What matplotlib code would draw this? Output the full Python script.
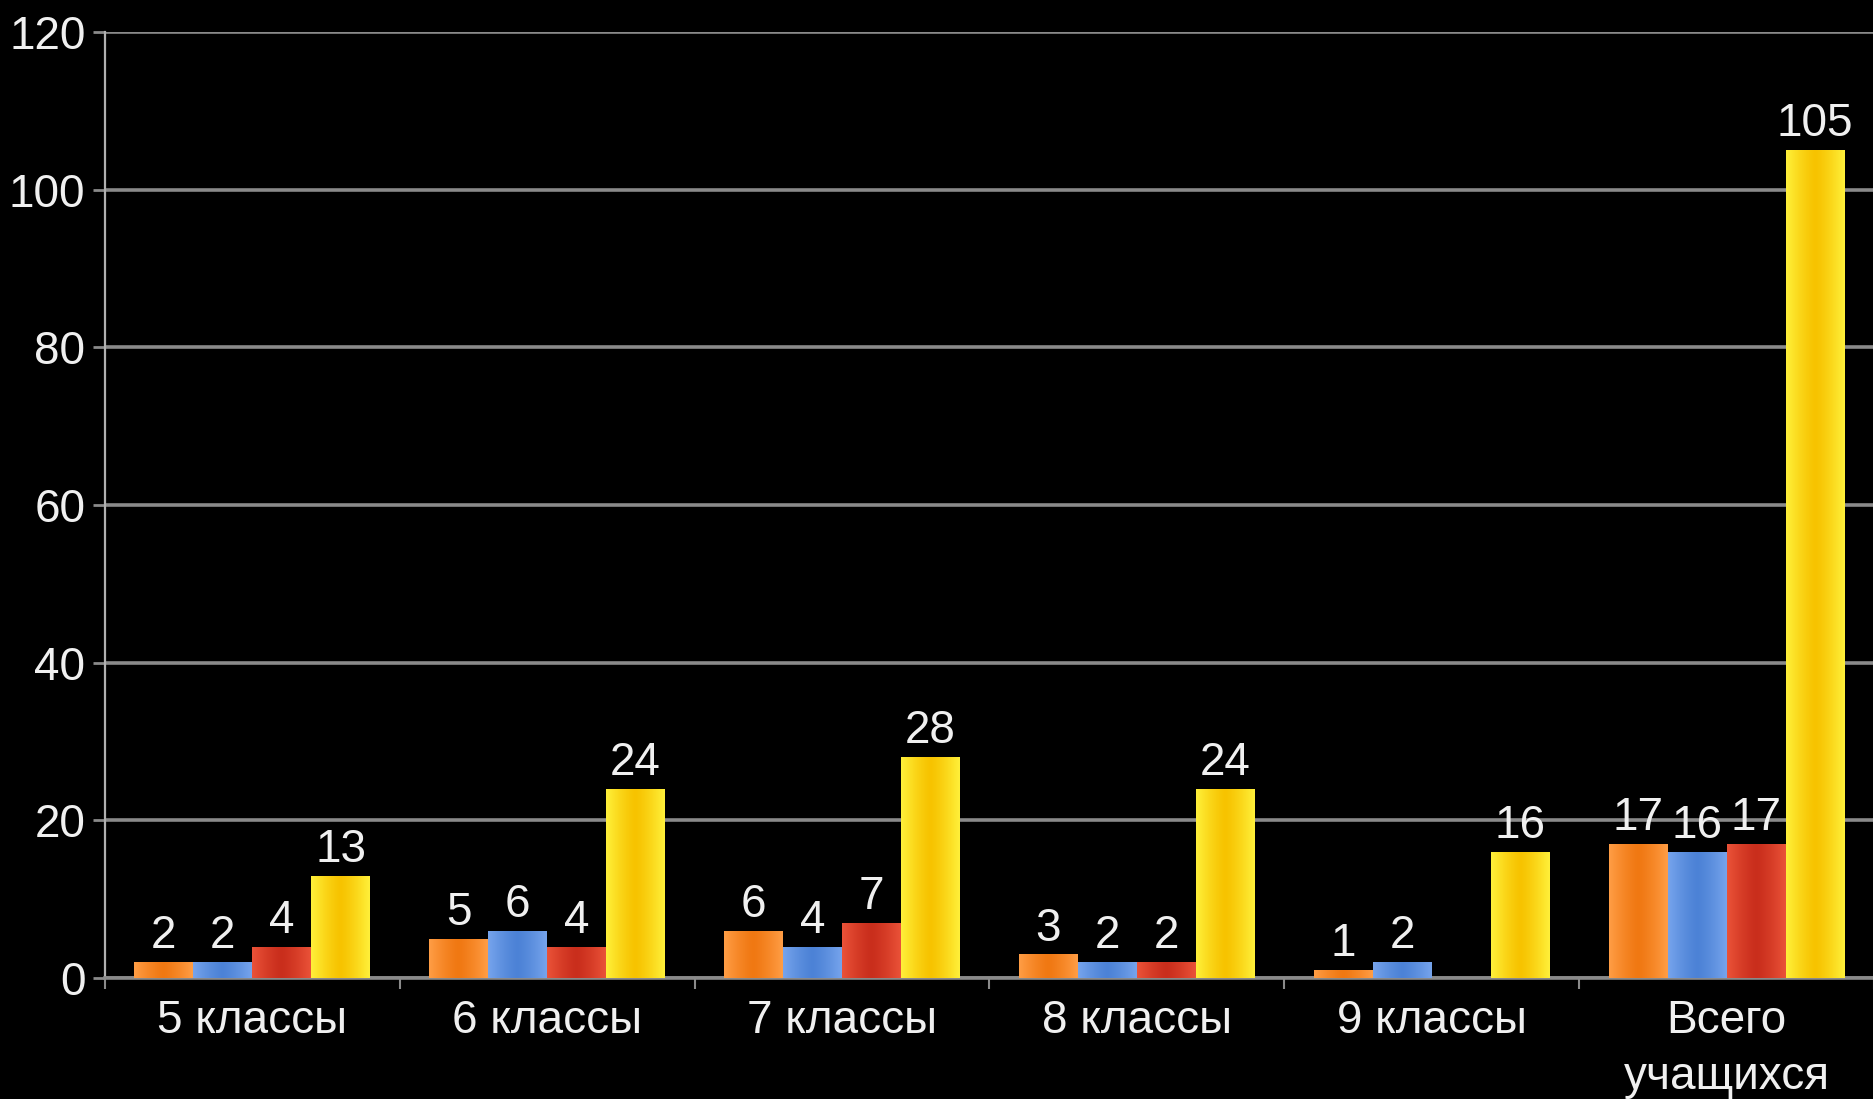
import matplotlib
matplotlib.use("Agg")
import matplotlib.pyplot as plt
import numpy as np
from matplotlib.colors import to_rgb

plt.rcParams["font.family"] = ["Liberation Sans", "DejaVu Sans"]
FS = 33

categories = ["5 классы", "6 классы", "7 классы", "8 классы", "9 классы", "Всего\nучащихся"]
s_orange = [2, 5, 6, 3, 1, 17]
s_blue = [2, 6, 4, 2, 2, 16]
s_red = [4, 4, 7, 2, 0, 17]
s_yellow = [13, 24, 28, 24, 16, 105]

series = [s_orange, s_blue, s_red, s_yellow]
# (edge colour, centre colour) for the horizontal sheen on each bar
shades = [("#FF9D45", "#F07812"),
          ("#76A4EC", "#4C82D6"),
          ("#EA5238", "#C92E1C"),
          ("#FFF03A", "#F7C300")]

BG = "#000000"
GRID = "#8A8A8A"
TXT = "#F0F0F0"


def gradient_img(edge, centre, n=64):
    t = np.abs(np.linspace(-1, 1, n)) ** 1.3
    e, c = np.array(to_rgb(edge)), np.array(to_rgb(centre))
    cols = c[None, :] * (1 - t[:, None]) + e[None, :] * t[:, None]
    return cols[None, :, :]


fig = plt.figure(figsize=(18.74, 10.99), dpi=100, facecolor=BG)
ax = fig.add_axes([0.056, 0.110, 0.944, 0.861], facecolor=BG)

x = np.arange(len(categories))
w = 0.2
for k, (vals, (edge, centre)) in enumerate(zip(series, shades)):
    pos = x - 0.4 + w * (k + 0.5)
    bars = ax.bar(pos, vals, w, color=centre, zorder=3, linewidth=0)
    img = gradient_img(edge, centre)
    for b, v in zip(bars, vals):
        if v <= 0:
            continue
        x0 = b.get_x()
        im = ax.imshow(img, extent=(x0, x0 + w, 0, v), aspect="auto",
                       zorder=3.5, interpolation="bilinear")
        im.set_clip_path(b)
        ax.text(x0 + w / 2, v + 0.5, str(v), ha="center", va="bottom",
                color=TXT, fontsize=FS, zorder=5)

ax.set_xlim(-0.5, len(categories) - 0.5)
ax.set_ylim(0, 120)
ax.set_yticks(np.arange(0, 121, 20))
ax.grid(axis="y", color=GRID, lw=2.6, zorder=1)
ax.set_axisbelow(True)

ax.set_xticks(x)
ax.set_xticklabels(categories, color=TXT, fontsize=FS, linespacing=1.35)
ax.set_xticks(np.arange(-0.5, len(categories)), minor=True)
ax.tick_params(axis="x", which="major", length=0, pad=15)
ax.tick_params(axis="x", which="minor", length=8, width=1.5, color=GRID)
ax.tick_params(axis="y", colors=TXT, labelsize=FS, length=9, width=2, color=GRID, pad=5)

for s in ["top", "right"]:
    ax.spines[s].set_visible(False)
ax.spines["left"].set_color("#B0B0B0")
ax.spines["left"].set_linewidth(1.6)
ax.spines["bottom"].set_color(GRID)
ax.spines["bottom"].set_linewidth(2.6)

fig.savefig("out.png", dpi=100, facecolor=BG)
